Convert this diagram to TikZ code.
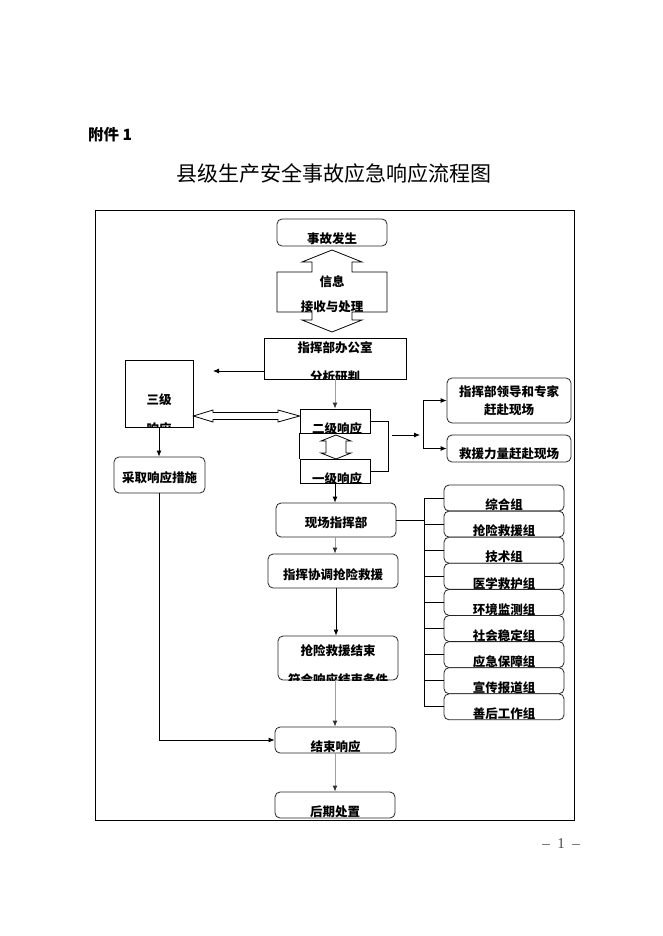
\documentclass[tikz,border=0pt]{standalone}
\usepackage{fontspec}
\setmainfont{Noto Sans CJK SC}
\newfontfamily\serifnum{Liberation Serif}
\usetikzlibrary{arrows.meta}
\tikzset{
  rbox/.style={draw=black!85, fill=white, rounded corners=5pt, line width=0.8pt, inner sep=0pt},
  sbox/.style={draw=black, fill=white, line width=0.8pt, inner sep=0pt},
  lbl/.style={inner sep=0pt, font=\fontsize{12.5}{14}\selectfont\bfseries},
  arr/.style={line width=0.8pt, -{Latex[length=6pt,width=5pt]}},
  garr/.style={draw=gray!75, line width=0.9pt, -{Latex[length=6pt,width=5pt,color=black!80]}},
  ln/.style={line width=0.8pt},
  hollow/.style={draw, line width=0.8pt, fill=white},
}
\newcommand\cliptxt[4]{\begin{scope}\clip (#1.south west) rectangle (#1.north east);\node[lbl] (#2) at #3 {#4};\end{scope}}
\begin{document}
\begin{tikzpicture}[x=1pt,y=-1pt]
\useasboundingbox (0,0) rectangle (662,936);
% header
\node[anchor=west, inner sep=0pt, font=\fontsize{15.5}{17}\selectfont\bfseries] (att) at (88,135) {附件 1};
\node[inner sep=0pt, font=\fontsize{21}{24}\selectfont] (title) at (334,173) {县级生产安全事故应急响应流程图};
\node[inner sep=0pt, font=\serifnum\fontsize{15}{17}\selectfont, text=black!70] (pg) at (561,844) {–\enspace 1\enspace –};
% frame
\draw[line width=0.9pt] (95,210) rectangle (574,820);

% event
\node[rbox, minimum width=110, minimum height=27] (acc) at (332,232.5) {};
\cliptxt{acc}{acct}{(332,239)}{事故发生}

% information up-down arrow box
\draw[hollow] (332,250) -- (362,262) -- (352,262) -- (352,272) -- (387,272) -- (387,312)
  -- (352,312) -- (352,320) -- (362,320) -- (332,332) -- (302,320) -- (312,320) -- (312,312)
  -- (277,312) -- (277,272) -- (312,272) -- (312,262) -- (302,262) -- cycle;
\node[lbl] (info1) at (332,282) {信息};
\node[lbl] (info2) at (332,307) {接收与处理};

% office
\node[sbox, minimum width=142, minimum height=41] (off) at (335,358.5) {};
\node[lbl] (offt1) at (335,348) {指挥部办公室};
\cliptxt{off}{offt2}{(335,377)}{分析研判}

% level 3
\node[sbox, minimum width=68, minimum height=67] (l3) at (159,393.5) {};
\node[lbl] (l3t1) at (159,400) {三级};
\cliptxt{l3}{l3t2}{(159,429)}{响应}

% level 2 / level 1
\node[sbox, minimum width=70, minimum height=24] (l2) at (335,421) {};
\cliptxt{l2}{l2t}{(337,429)}{二级响应}
\node[sbox, minimum width=70, minimum height=24] (l1) at (335,471) {};
\cliptxt{l1}{l1t}{(337,479)}{一级响应}
\draw[ln] (l2.south west) -- (l1.north west);
\draw[ln] (l2.east) -- ++(18,0) |- (l1.east);
% hollow vertical double arrow
\draw[hollow] (336,435) -- (351,441) -- (346,441) -- (346,453) -- (351,453) -- (336,459)
  -- (321,453) -- (326,453) -- (326,441) -- (321,441) -- cycle;
% hollow horizontal double arrow
\draw[hollow] (l3.east |- 0,416) -- (213,410) -- (213,412.5) -- (278,412.5) -- (278,410)
  -- (l2.west |- 0,416) -- (278,422) -- (278,419.5) -- (213,419.5) -- (213,422) -- cycle;

% office -> left (free end)
\coordinate (offl) at (213,371);
\draw[arr] (off.west |- offl) -- (offl);
\draw[garr] (off.south) -- (l2.north);

% leaders / forces
\node[rbox, minimum width=124, minimum height=45] (lead) at (509,400.5) {};
\node[lbl] (leadt1) at (509,392) {指挥部领导和专家};
\node[lbl] (leadt2) at (509,410) {赶赴现场};
\node[rbox, minimum width=124, minimum height=27] (force) at (509,448.5) {};
\cliptxt{force}{forcet}{(509,454)}{救援力量赶赴现场}
\coordinate (b1) at (392,435);
\coordinate (b2) at (420,435);
\draw[arr] (b1) -- (b2);
\coordinate (sp) at (423,0);
\draw[ln] (sp |- lead.west) -- (sp |- force.west);
\draw[arr] (sp |- lead.west) -- (lead.west);
\draw[arr] (sp |- force.west) -- (force.west);

% measures
\node[rbox, minimum width=91, minimum height=36] (meas) at (159.5,475) {};
\node[lbl] (meast) at (159.5,478) {采取响应措施};
\draw[arr] (l3.south) -- (l3.south |- meas.north);

% main chain
\node[rbox, minimum width=120, minimum height=34] (site) at (336,520) {};
\node[lbl] (sitet) at (336,523) {现场指挥部};
\node[rbox, minimum width=130, minimum height=34] (coord) at (333,571) {};
\node[lbl] (coordt) at (333,575) {指挥协调抢险救援};
\node[rbox, minimum width=120, minimum height=44] (fin) at (338,658) {};
\node[lbl] (fint1) at (338,651) {抢险救援结束};
\cliptxt{fin}{fint2}{(338,680)}{符合响应结束条件}
\node[rbox, minimum width=121, minimum height=26] (endr) at (335.5,740) {};
\node[lbl] (endrt) at (335.5,747) {结束响应};
\node[rbox, minimum width=120, minimum height=26] (aft) at (335,805) {};
\cliptxt{aft}{aftt}{(335,812)}{后期处置}

\draw[arr] (l1.south) -- (l1.south |- site.north);
\draw[garr] (site.south -| 335,0) -- (coord.north -| 335,0);
\draw[arr] (coord.south -| 336,0) -- (fin.north -| 336,0);
\draw[garr] (fin.south -| 335,0) -- (endr.north -| 335,0);
\draw[garr] (endr.south -| 335,0) -- (aft.north -| 335,0);
\draw[arr] (meas.south) |- (endr.west);

% groups
\foreach \n/\t [count=\i from 0] in {g1/综合组, g2/抢险救援组, g3/技术组, g4/医学救护组, g5/环境监测组, g6/社会稳定组, g7/应急保障组, g8/宣传报道组, g9/善后工作组}{
  \node[rbox, minimum width=120, minimum height=26] (\n) at (504,{498+26.1*\i}) {};
  \cliptxt{\n}{\n t}{(504,{505+26.1*\i})}{\t}
}
\coordinate (gx) at (424,0);
\draw[ln] (site.east) -- (gx |- site.east);
\draw[ln] (gx |- g1.west) -- (gx |- g9.west);
\foreach \n in {g1,g2,g3,g4,g5,g6,g7,g8,g9}{
  \draw[ln] (gx |- \n.west) -- (\n.west);
}
\end{tikzpicture}
\end{document}
